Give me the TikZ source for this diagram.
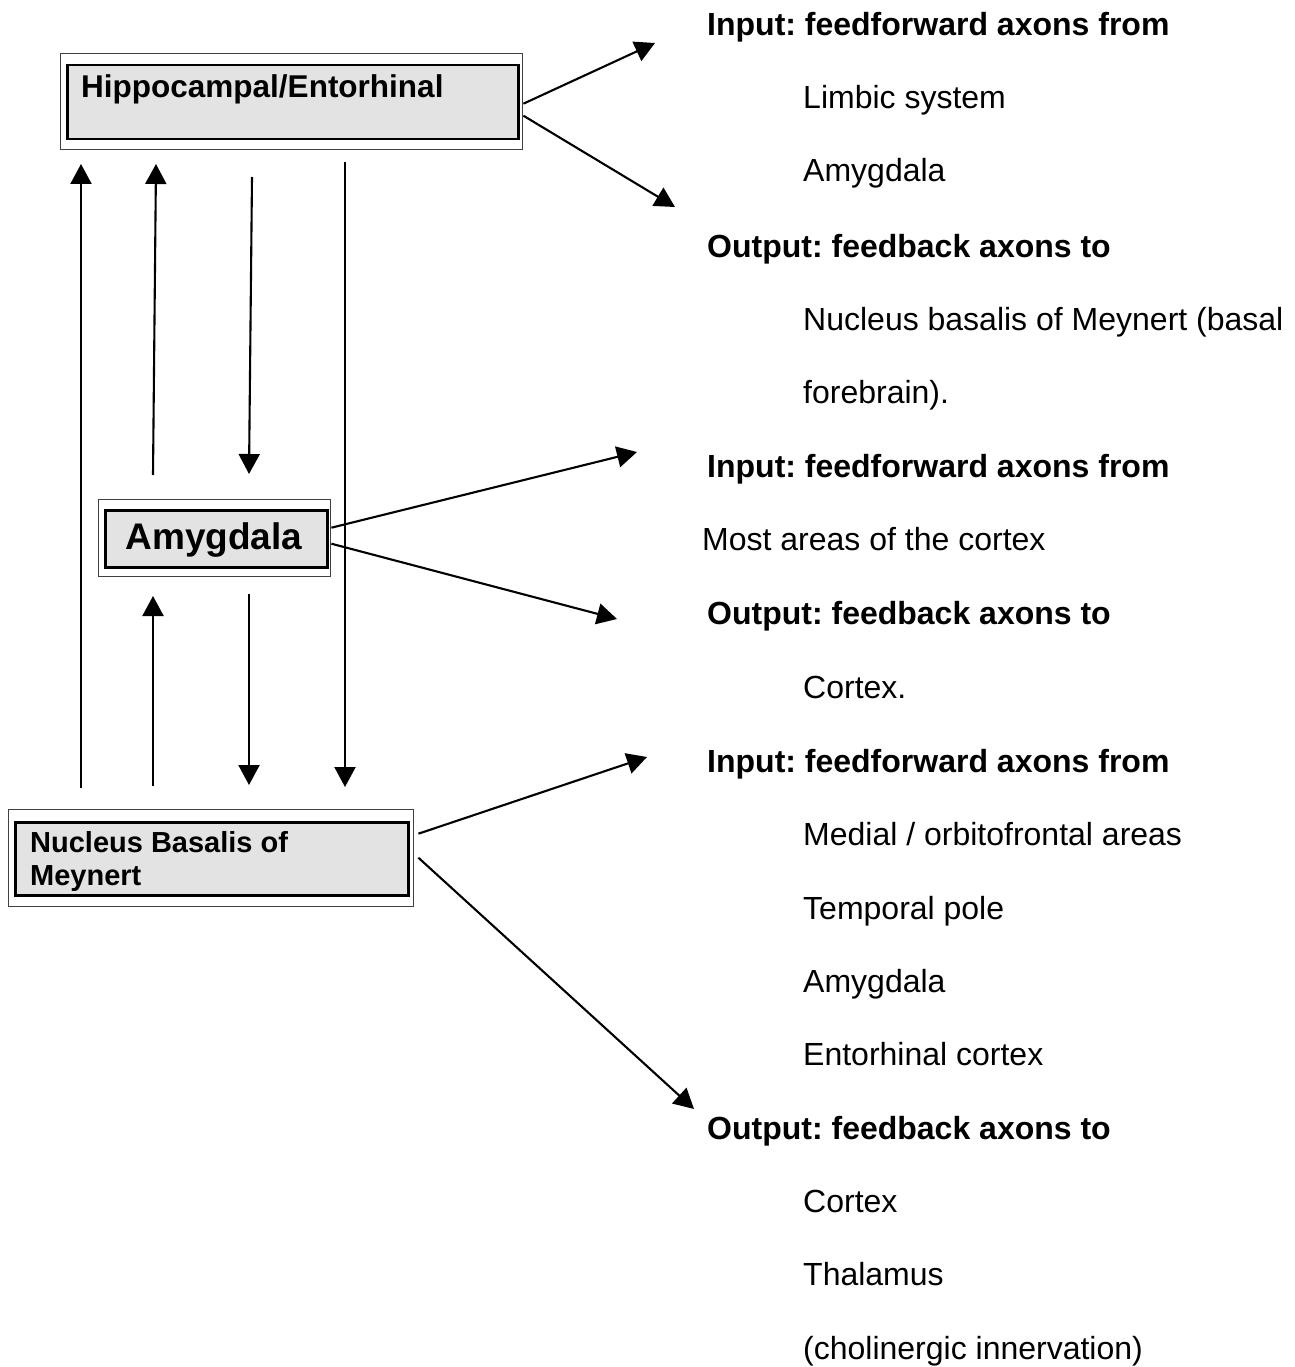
\documentclass[tikz,border=0pt]{standalone}
\usepackage{fontspec}
\setmainfont{Liberation Sans}
\usetikzlibrary{arrows.meta}
\definecolor{boxfill}{HTML}{E3E3E3}
\frenchspacing
\begin{document}
\begin{tikzpicture}[x=1pt,y=-1pt,
  outerbox/.style={draw=black!75,line width=1.4pt,fill=white,inner sep=0,anchor=north west},
  innerbox/.style={draw=black,line width=2.5pt,fill=boxfill,inner sep=0,anchor=north west},
  arr/.style={line width=2.1pt,-{Triangle[width=21pt,length=20pt]}},
  head/.style={anchor=base west,font=\fontsize{32}{38}\selectfont\bfseries,inner sep=0},
  item/.style={anchor=base west,font=\fontsize{32}{38}\selectfont,inner sep=0}]
\useasboundingbox (0,0) rectangle (1294,1367);
\fill[white] (0,0) rectangle (1294,1367);

% boxes
\node[outerbox,minimum width=462pt,minimum height=96pt] (hippoOut) at (60,53) {};
\node[innerbox,minimum width=451pt,minimum height=74pt] (hippoIn) at (66,64) {};
\node[anchor=base west,inner sep=0,font=\fontsize{31.5}{36}\selectfont\bfseries] (hippoLbl) at (81,98) {Hippocampal/Entorhinal};

\node[outerbox,minimum width=232pt,minimum height=77pt] (amyOut) at (98,499) {};
\node[innerbox,minimum width=222pt,minimum height=57pt] (amyIn) at (104,509) {};
\node[anchor=base,inner sep=0,font=\fontsize{37}{42}\selectfont\bfseries] (amyLbl) at (214,549) {Amygdala};

\node[outerbox,minimum width=405pt,minimum height=97pt] (nbmOut) at (8,809) {};
\node[innerbox,minimum width=393pt,minimum height=73pt] (nbmIn) at (14,821) {};
\node[anchor=base west,inner sep=0,font=\fontsize{29}{33}\selectfont\bfseries] (nbmLblA) at (30,852) {Nucleus Basalis of};
\node[anchor=base west,inner sep=0,font=\fontsize{29}{33}\selectfont\bfseries] (nbmLblB) at (30,885) {Meynert};

% vertical connector ends
\coordinate (a1s) at (81,788);  \coordinate (a1e) at (81,164);
\coordinate (a2s) at (153,475); \coordinate (a2e) at (156,164);
\coordinate (a3s) at (252,177); \coordinate (a3e) at (249,474);
\coordinate (a4s) at (345,162); \coordinate (a4e) at (345,787);
\coordinate (a5s) at (153,786); \coordinate (a5e) at (153,596);
\coordinate (a6s) at (249,594); \coordinate (a6e) at (249,785);

\draw[arr] (a1s) -- (a1e);
\draw[arr] (a2s) -- (a2e);
\draw[arr] (a3s) -- (a3e);
\draw[arr] (a4s) -- (a4e);
\draw[arr] (a5s) -- (a5e);
\draw[arr] (a6s) -- (a6e);

% diagonal connector tips
\coordinate (t1) at (655,43);
\coordinate (t2) at (675,207);
\coordinate (t3) at (637,452);
\coordinate (t4) at (617,619);
\coordinate (t5) at (647,757);
\coordinate (t6) at (694,1109);

\draw[arr] ([yshift=-2pt]hippoOut.east) -- (t1);
\draw[arr] ([yshift=-14pt]hippoOut.east) -- (t2);
\draw[arr] ([yshift=10.5pt]amyOut.east) -- (t3);
\draw[arr] ([yshift=-5.5pt]amyOut.east) -- (t4);
\draw[arr] ([xshift=4pt,yshift=24.5pt]nbmOut.east) -- (t5);
\draw[arr] ([xshift=4pt,yshift=0.5pt]nbmOut.east) -- (t6);

% right column text
\node[head] (r0) at (707,36) {Input: feedforward axons from};
\node[item] (r1) at (803,109) {Limbic system};
\node[item] (r2) at (803,182) {Amygdala};
\node[head] (r3) at (707,257) {Output: feedback axons to};
\node[item] (r4) at (803,330) {Nucleus basalis of Meynert (basal};
\node[item] (r5) at (803,403) {forebrain).};
\node[head] (r6) at (707,477) {Input: feedforward axons from};
\node[item] (r7) at (702,550) {Most areas of the cortex};
\node[head] (r8) at (707,624) {Output: feedback axons to};
\node[item] (r9) at (803,698) {Cortex.};
\node[head] (r10) at (707,772) {Input: feedforward axons from};
\node[item] (r11) at (803,845) {Medial / orbitofrontal areas};
\node[item] (r12) at (803,919) {Temporal pole};
\node[item] (r13) at (803,992) {Amygdala};
\node[item] (r14) at (803,1065) {Entorhinal cortex};
\node[head] (r15) at (707,1139) {Output: feedback axons to};
\node[item] (r16) at (803,1212) {Cortex};
\node[item] (r17) at (803,1285) {Thalamus};
\node[item] (r18) at (803,1359) {(cholinergic innervation)};
\end{tikzpicture}
\end{document}
